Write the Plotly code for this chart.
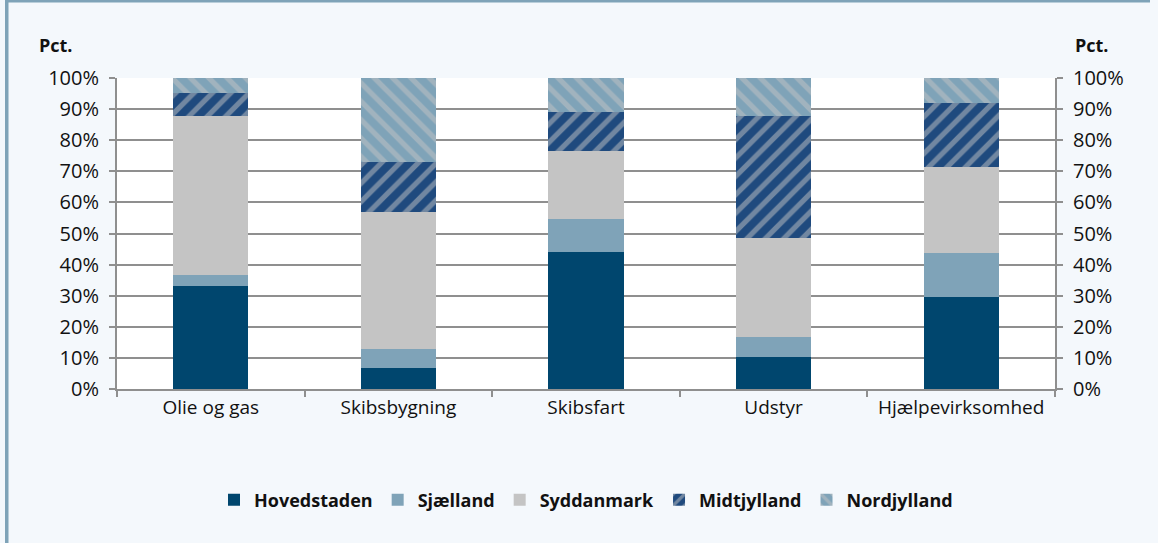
import plotly.graph_objects as go

categories = ["Olie og gas", "Skibsbygning", "Skibsfart", "Udstyr", "Hjælpevirksomhed"]
hovedstaden = [33.0, 6.6, 44.2, 10.4, 29.7]
sjaelland = [3.6, 6.2, 10.6, 6.4, 14.1]
syddanmark = [51.3, 44.2, 21.8, 31.6, 27.7]
midtjylland = [7.4, 15.9, 12.4, 39.4, 20.6]
nordjylland = [4.7, 27.1, 11.0, 12.2, 7.9]
y_ticks = [0, 10, 20, 30, 40, 50, 60, 70, 80, 90, 100]
y_tick_labels = ["0%", "10%", "20%", "30%", "40%", "50%", "60%", "70%", "80%", "90%", "100%"]

W, H = 1158, 543
L, R, T, B = 117, 1055, 78, 389
pw, ph = R - L, B - T

def px_x(x):
    return (x - L) / pw

def px_y(y):
    return (B - y) / ph

FONT = "Open Sans"
GRID = "#8f8f8f"
TXT = "#111111"

fig = go.Figure()
series = [
    ("Hovedstaden", hovedstaden, "#00466e", None),
    ("Sjælland", sjaelland, "#7fa3b8", None),
    ("Syddanmark", syddanmark, "#c4c4c4", None),
    ("Midtjylland", midtjylland, "#1f4a7e",
     dict(shape="/", fgcolor="#c4c4c4", bgcolor="#1f4a7e", size=13, solidity=0.4)),
    ("Nordjylland", nordjylland, "#7fa3b8",
     dict(shape="\\", fgcolor="#c4c4c4", bgcolor="#7fa3b8", size=13, solidity=0.4)),
]
for name, vals, col, pat in series:
    marker = dict(color=col, line=dict(width=0))
    if pat:
        marker["pattern"] = pat
    fig.add_trace(go.Bar(x=categories, y=vals, name=name, marker=marker, width=0.4))

# invisible trace to render the right axis
fig.add_trace(go.Scatter(x=categories, y=[None] * len(categories), yaxis="y2",
                         showlegend=False, hoverinfo="skip", mode="markers"))

axis_common = dict(
    range=[0, 100], tickmode="array", tickvals=y_ticks, ticktext=y_tick_labels,
    showline=True, linecolor=GRID, linewidth=2,
    ticks="outside", ticklen=6, tickcolor=GRID, tickwidth=2,
    ticklabelstandoff=6,
    tickfont=dict(family=FONT, size=20, color=TXT),
)

fig.update_layout(
    width=W, height=H,
    margin=dict(l=L, r=W - R, t=T, b=H - B),
    barmode="stack",
    paper_bgcolor="#f4f8fc",
    plot_bgcolor="#ffffff",
    font=dict(family=FONT, color=TXT),
    xaxis=dict(
        showline=True, linecolor=GRID, linewidth=2,
        ticks="outside", tickson="boundaries", ticklen=6, tickcolor=GRID, tickwidth=2,
        tickfont=dict(family=FONT, size=19, color=TXT),
        showgrid=False,
    ),
    yaxis=dict(showgrid=True, gridcolor=GRID, gridwidth=2, zeroline=False, **axis_common),
    yaxis2=dict(overlaying="y", side="right", showgrid=False, zeroline=False, **axis_common),
    legend=dict(
        orientation="h", x=0.5, xanchor="center", y=px_y(500), yanchor="middle",
        font=dict(family=FONT, size=18, color=TXT, weight="bold"),
        bgcolor="rgba(0,0,0,0)", traceorder="normal",
        itemwidth=30,
    ),
    annotations=[
        dict(text="<b>Pct.</b>", xref="paper", yref="paper", x=px_x(37), y=px_y(45),
             xanchor="left", yanchor="middle", showarrow=False,
             font=dict(family=FONT, size=18, color=TXT)),
        dict(text="<b>Pct.</b>", xref="paper", yref="paper", x=px_x(1073), y=px_y(45),
             xanchor="left", yanchor="middle", showarrow=False,
             font=dict(family=FONT, size=18, color=TXT)),
    ],
    shapes=[
        dict(type="rect", xref="paper", yref="paper", x0=px_x(5), x1=px_x(8.5),
             y0=px_y(H), y1=px_y(0), fillcolor="#7fa3b8", line=dict(width=0), layer="above"),
        dict(type="rect", xref="paper", yref="paper", x0=px_x(5), x1=px_x(1150),
             y0=px_y(2.5), y1=px_y(0), fillcolor="#7fa3b8", line=dict(width=0), layer="above"),
    ],
)

fig.write_html("out.html", config={"displayModeBar": False},
               post_script="document.body.style.margin='0';document.body.style.overflow='hidden';")
